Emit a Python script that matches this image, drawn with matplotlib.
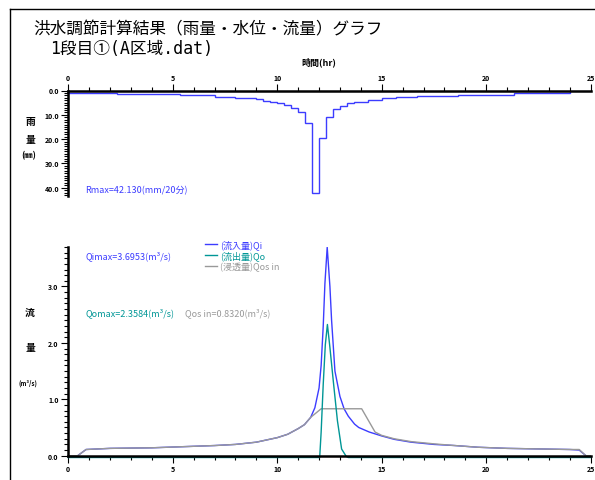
import matplotlib
matplotlib.use("Agg")
import matplotlib.pyplot as plt
import matplotlib.transforms as mtransforms
from matplotlib.lines import Line2D
from matplotlib.ticker import MultipleLocator, FormatStrFormatter

plt.rcParams['font.family'] = ['Noto Sans CJK JP', 'DejaVu Sans']

# 雨量 (20分ごとの階段状データ)
rain_edges = [0, 2.33, 5.33, 7.0, 8.0, 9.0, 9.33, 9.67, 10.0, 10.33, 10.67, 11.0,
              11.33, 11.67, 12.0, 12.33, 12.67, 13.0, 13.33, 13.67, 14.33, 15.0,
              15.67, 16.67, 18.67, 21.33, 24.0]
rain_vals = [1.0, 1.4, 1.8, 2.5, 2.9, 3.6, 4.2, 4.6, 5.0, 6.0, 7.1, 8.7, 13.3,
             42.13, 19.5, 10.8, 7.8, 6.4, 5.3, 4.6, 3.8, 3.2, 2.8, 2.2, 1.8, 1.1]

# 流入量 Qi
qi_t = [0, 0.45, 0.85, 2.0, 4.0, 5.5, 7.0, 8.0, 9.0, 9.5, 10.0, 10.5, 11.0, 11.3,
        11.6, 11.8, 12.0, 12.1, 12.2, 12.28, 12.39, 12.52, 12.6, 12.76, 13.0, 13.2,
        13.4, 13.7, 13.9, 14.4, 15.0, 15.6, 16.4, 17.5, 18.5, 19.6, 21.0, 22.5,
        24.0, 24.45, 24.77, 25]
qi_v = [0, 0, 0.11, 0.13, 0.14, 0.16, 0.18, 0.2, 0.24, 0.28, 0.32, 0.38, 0.48, 0.55,
        0.68, 0.85, 1.2, 1.6, 2.3, 3.05, 3.6953, 3.0, 2.4, 1.5, 1.05, 0.83, 0.7,
        0.56, 0.5, 0.42, 0.35, 0.29, 0.24, 0.2, 0.18, 0.15, 0.13, 0.12, 0.11, 0.1,
        0, 0]

# 流出量 Qo
qo_t = [0, 12.03, 12.1, 12.2, 12.3, 12.4, 12.52, 12.68, 12.88, 13.08, 13.3, 13.4, 25]
qo_v = [0, 0, 0.45, 1.3, 2.0, 2.3584, 1.95, 1.36, 0.65, 0.15, 0.02, 0, 0]

# 浸透量 Qos in
qs_t = [0, 0.45, 0.85, 2.0, 4.0, 5.5, 7.0, 8.0, 9.0, 9.5, 10.0, 10.5, 11.0, 11.3,
        11.6, 12.1, 14.04, 14.68, 15.0, 15.6, 16.4, 17.5, 18.5, 19.6, 21.0, 22.5,
        24.0, 24.45, 24.77, 25]
qs_v = [0, 0, 0.11, 0.13, 0.14, 0.16, 0.18, 0.2, 0.24, 0.28, 0.32, 0.38, 0.48, 0.55,
        0.68, 0.832, 0.832, 0.42, 0.36, 0.3, 0.25, 0.21, 0.18, 0.15, 0.13, 0.12,
        0.11, 0.11, 0, 0]

BLUE = '#3c3cff'
TEAL = '#009696'
GRAY = '#999999'

W, H = 595, 481
fig = plt.figure(figsize=(W / 100, H / 100), dpi=100)


def fx(px):
    return px / W


def fy(py):
    return 1 - py / H


# 外枠
fig.add_artist(Line2D([fx(10), fx(10)], [fy(10), 0], color='black', lw=1.0))
fig.add_artist(Line2D([fx(10), 1], [fy(10), fy(10)], color='black', lw=1.0))

fig.text(fx(33), fy(30), '洪水調節計算結果（雨量・水位・流量）グラフ', fontsize=12,
         va='center', ha='left')
fig.text(fx(50), fy(48.5), '1段目①(A区域.dat)', fontsize=12, va='center', ha='left',
         family=['DejaVu Sans Mono', 'Noto Sans CJK JP', 'DejaVu Sans'])

# ---- 雨量 ----
ax1 = fig.add_axes([fx(68.3), fy(196.7), fx(590.7) - fx(68.3), fy(91.5) - fy(196.7)])
ax1.stairs(rain_vals, rain_edges, baseline=0, color=BLUE, lw=1.0)
ax1.set_xlim(0, 25)
ax1.set_ylim(43.3, 0)
for s in ['right', 'bottom']:
    ax1.spines[s].set_visible(False)
for s in ['left', 'top']:
    ax1.spines[s].set_linewidth(1.8)
ax1.xaxis.tick_top()
ax1.xaxis.set_major_locator(MultipleLocator(5))
ax1.xaxis.set_minor_locator(MultipleLocator(1))
ax1.yaxis.set_major_locator(MultipleLocator(10))
ax1.yaxis.set_minor_locator(MultipleLocator(1))
ax1.yaxis.set_major_formatter(FormatStrFormatter('%.1f'))
ax1.tick_params(which='major', length=5, width=0.8, pad=1.5)
ax1.tick_params(which='minor', length=3, width=0.8)
ax1.tick_params(axis='x', which='both', top=True, bottom=False)
for lab in ax1.get_xticklabels() + ax1.get_yticklabels():
    lab.set_fontsize(5)
    lab.set_fontweight('bold')

fig.text(fx(319), fy(62), '時間(hr)', fontsize=6.5, fontweight='bold', ha='center', va='center')
fig.text(fx(30), fy(122), '雨', fontsize=7, fontweight='bold', ha='center', va='center')
fig.text(fx(30), fy(140), '量', fontsize=7, fontweight='bold', ha='center', va='center')
fig.text(fx(29), fy(156), '(㎜)', fontsize=6, fontweight='bold', ha='center', va='center')
fig.text(fx(85), fy(191), 'Rmax=42.130(mm/20分)', fontsize=6.5, color=BLUE,
         ha='left', va='center')

# ---- 流量 ----
ax2 = fig.add_axes([fx(68.3), fy(456.7), fx(590.7) - fx(68.3), fy(248) - fy(456.7)])
ax2.plot(qi_t, qi_v, color=BLUE, lw=1.0, label='(流入量)Qi')
ax2.plot(qs_t, qs_v, color=GRAY, lw=1.0, label='(浸透量)Qos in')
shift = mtransforms.offset_copy(ax2.transData, fig=fig, y=-1.3, units='points')
ax2.plot(qo_t, qo_v, color=TEAL, lw=1.0, label='(流出量)Qo', transform=shift,
         clip_on=False)
ax2.set_xlim(0, 25)
ax2.set_ylim(0, 3.7)
for s in ['right', 'top']:
    ax2.spines[s].set_visible(False)
for s in ['left', 'bottom']:
    ax2.spines[s].set_linewidth(1.8)
ax2.xaxis.set_major_locator(MultipleLocator(5))
ax2.xaxis.set_minor_locator(MultipleLocator(1))
ax2.yaxis.set_major_locator(MultipleLocator(1))
ax2.yaxis.set_minor_locator(MultipleLocator(0.1))
ax2.yaxis.set_major_formatter(FormatStrFormatter('%.1f'))
ax2.tick_params(which='major', length=5, width=0.8, pad=2)
ax2.tick_params(which='minor', length=3, width=0.8)
for lab in ax2.get_xticklabels() + ax2.get_yticklabels():
    lab.set_fontsize(5)
    lab.set_fontweight('bold')

h, l = ax2.get_legend_handles_labels()
order = [0, 2, 1]
leg = ax2.legend([h[i] for i in order], [l[i] for i in order], loc='upper left',
                 bbox_to_anchor=(fx(205), fy(240)), bbox_transform=fig.transFigure,
                 frameon=False, fontsize=6.5, handlelength=1.3, handletextpad=0.4,
                 labelspacing=0.15, borderpad=0, borderaxespad=0,
                 labelcolor='linecolor')

fig.text(fx(30), fy(313), '流', fontsize=7, fontweight='bold', ha='center', va='center')
fig.text(fx(30), fy(348), '量', fontsize=7, fontweight='bold', ha='center', va='center')
fig.text(fx(28), fy(383), '(m³/s)', fontsize=4.5, fontweight='bold', ha='center', va='center')
fig.text(fx(85), fy(256), 'Qimax=3.6953(m³/s)', fontsize=6.5, color=BLUE,
         ha='left', va='center')
fig.text(fx(85), fy(313), 'Qomax=2.3584(m³/s)', fontsize=6.5, color=TEAL,
         ha='left', va='center')
fig.text(fx(185), fy(313), 'Qos in=0.8320(m³/s)', fontsize=6.5, color=GRAY,
         ha='left', va='center')

fig.savefig('out.png', dpi=100)
